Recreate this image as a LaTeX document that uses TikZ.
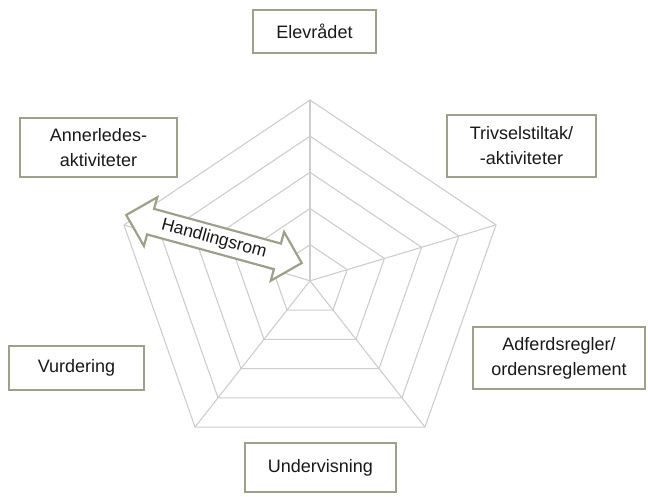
\documentclass[tikz,border=0pt]{standalone}
\usepackage{fontspec}
\setmainfont{Liberation Sans}
\usetikzlibrary{shapes.arrows,calc}
\definecolor{boxline}{RGB}{158,160,140}
\definecolor{gridline}{RGB}{205,205,205}
\definecolor{txt}{RGB}{25,25,25}
\tikzset{
  labelbox/.style={draw=boxline, line width=2pt, fill=white, text=txt, align=center,
    inner sep=0pt, font=\fontsize{18}{25}\selectfont},
  gridl/.style={draw=gridline, line width=1.1pt, line join=round},
}
\begin{document}
\begin{tikzpicture}[x=1pt,y=-1pt]
\useasboundingbox (0,0) rectangle (648,496);
\coordinate (C) at (310,280.8);
\foreach \k in {0,...,4}{
  \coordinate (v\k) at ({310+195.6*cos(90+72*\k)},{280.8-180.8*sin(90+72*\k)});
}
% rings
\foreach \r in {0.2,0.4,0.6,0.8,1.0}{
  \draw[gridl] ($(C)!\r!(v0)$) -- ($(C)!\r!(v1)$) -- ($(C)!\r!(v2)$) -- ($(C)!\r!(v3)$) -- ($(C)!\r!(v4)$) -- cycle;
}
% spokes
\foreach \k in {0,...,4}{
  \draw[gridl] (C) -- (v\k);
}
% labels
\node[labelbox, minimum width=123pt, minimum height=43pt] (elev) at (314.5,31.5) {Elevrådet};
\node[labelbox, minimum width=157pt, minimum height=59pt] (annen) at (98.5,147.5) {Annerledes-\\aktiviteter};
\node[labelbox, minimum width=149pt, minimum height=62pt] (triv) at (521.5,146) {Trivselstiltak/\\-aktiviteter};
\node[labelbox, minimum width=135pt, minimum height=44pt] (vurd) at (76.5,368) {Vurdering};
\node[labelbox, minimum width=172pt, minimum height=62pt] (adf) at (559,358) {Adferdsregler/\\ordensreglement};
\node[labelbox, minimum width=151pt, minimum height=49pt] (underv) at (320.5,467.5) {Undervisning};
% double arrow
\node[double arrow, draw=boxline, line width=2.2pt, fill=white, text=txt,
  rotate=-15.3, minimum height=182pt, inner sep=4pt, double arrow head extend=12pt,
  font=\fontsize{17.5}{20}\selectfont] (hand) at (214,239) {Handlingsrom};
\end{tikzpicture}
\end{document}
